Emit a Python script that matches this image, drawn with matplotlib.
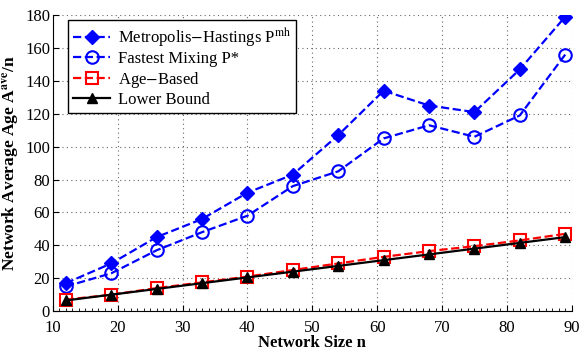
import numpy as np
import matplotlib.pyplot as plt
from matplotlib.ticker import MultipleLocator

plt.rcParams['font.family'] = ['Liberation Serif', 'DejaVu Serif']
plt.rcParams['mathtext.fontset'] = 'stix'

n = [12, 19, 26, 33, 40, 47, 54, 61, 68, 75, 82, 89]
metropolis = [17, 29, 45, 56, 72, 83, 107, 134, 125, 121, 147, 179]
fastest = [15, 23, 37, 48, 58, 76, 85, 105, 113, 106, 119, 156]
age_based = [7, 10, 14, 17.5, 21, 25, 29, 33, 36.5, 39.5, 43, 47]
lower_bound = [6.5, 10, 13.5, 17, 20.5, 24, 27.5, 31, 34.5, 38, 41.5, 45]

fig, ax = plt.subplots(figsize=(5.87, 3.5), dpi=100)

ax.plot(n, metropolis, "b--", marker="D", ms=7, lw=1.6,
        label=r"Metropolis$-$Hastings P$^{\mathrm{mh}}$")
ax.plot(n, fastest, "b--", marker="o", ms=9, mfc="none", mew=1.5, lw=1.6,
        label="Fastest Mixing P*")
ax.plot(n, age_based, "r--", marker="s", ms=9, mfc="none", mew=1.5, lw=1.6,
        label=r"Age$-$Based")
ax.plot(n, lower_bound, "k-", marker="^", ms=7, lw=1.6, label="Lower Bound")

ax.set_xlim(10, 90)
ax.set_ylim(0, 180)
ax.set_xticks(np.arange(10, 91, 10))
ax.set_yticks(np.arange(0, 181, 20))
ax.xaxis.set_minor_locator(MultipleLocator(1))
ax.tick_params(which="both", direction="in", labelsize=12)
ax.tick_params(axis="y", pad=2)
ax.tick_params(axis="x", pad=6.5)
ax.tick_params(which="minor", length=2)
ax.tick_params(which="major", length=4)
ax.grid(True, linestyle=(0, (1, 3)), color="0.4", lw=0.8)
ax.spines["top"].set_visible(False)
ax.spines["right"].set_visible(False)

ax.set_xlabel("Network Size n", fontsize=12, fontweight="bold", labelpad=-1)
ax.set_ylabel(r"Network Average Age A$^{\mathbf{ave}}$/n", fontsize=12.5,
              fontweight="bold", labelpad=3)

leg = ax.legend(loc="upper left", fontsize=12, fancybox=False, framealpha=1,
                edgecolor="k", handlelength=2.2, borderpad=0.3, labelspacing=0.15,
                borderaxespad=0.3, handletextpad=0.5, bbox_to_anchor=(0.02, 1.0))
leg.get_frame().set_linewidth(1.0)

fig.subplots_adjust(left=0.09, right=0.974, top=0.957, bottom=0.111)
fig.savefig("out.png", dpi=100)
